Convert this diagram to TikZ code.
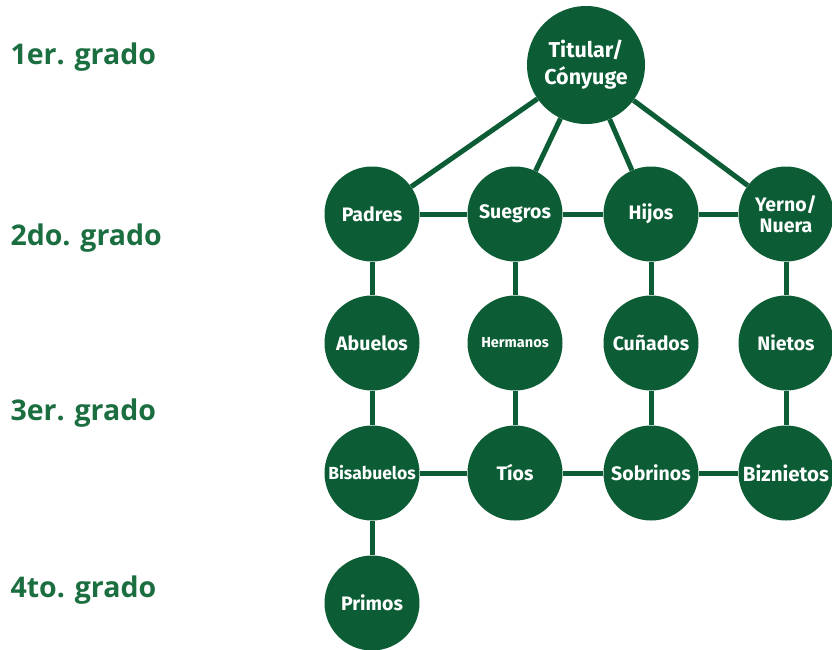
\documentclass[tikz,border=0pt]{standalone}
\usepackage{fontspec}
\setmainfont{Fira Sans}
\newfontfamily\gradofont{Open Sans}
\definecolor{circlegreen}{HTML}{0C5D35}
\definecolor{gradogreen}{HTML}{1B6E40}
\tikzset{
  pariente/.style={
    circle,fill=circlegreen,minimum size=95pt,inner sep=0pt,
    text=white,align=center,font=\bfseries\fontsize{19.5}{21}\selectfont
  },
  pariente grande/.style={pariente,minimum size=118pt,font=\bfseries\fontsize{21.5}{27}\selectfont},
  pariente chico/.style={pariente,font=\bfseries\fontsize{14.5}{16}\selectfont},
  grado/.style={anchor=west,text=gradogreen,font=\gradofont\bfseries\fontsize{28.5}{30}\selectfont},
  enlace/.style={draw=circlegreen,line width=5pt}
}
\begin{document}
\begin{tikzpicture}[x=1pt,y=-1pt]
\useasboundingbox (0,0) rectangle (832,649);
% grados
\node[grado] (g1) at (7,57) {1er. grado};
\node[grado] (g2) at (7,238) {2do. grado};
\node[grado] (g3) at (7,413) {3er. grado};
\node[grado] (g4) at (7,590) {4to. grado};
% parientes
\node[pariente grande] (titular) at (586,65) {Titular/\\Cónyuge};
\node[pariente] (padres) at (372,214) {Padres};
\node[pariente] (suegros) at (515,214) {Suegros};
\node[pariente] (hijos) at (651,214) {Hijos};
\node[pariente] (yerno) at (786,214) {Yerno/\\Nuera};
\node[pariente] (abuelos) at (372,343) {Abuelos};
\node[pariente chico] (hermanos) at (515,343) {Hermanos};
\node[pariente] (cunados) at (651,343) {Cuñados};
\node[pariente] (nietos) at (786,343) {Nietos};
\node[pariente,font=\bfseries\fontsize{17.5}{19}\selectfont] (bisabuelos) at (372,473) {Bisabuelos};
\node[pariente] (tios) at (515,473) {Tíos};
\node[pariente] (sobrinos) at (651,473) {Sobrinos};
\node[pariente,font=\bfseries\fontsize{20.5}{22}\selectfont] (biznietos) at (786,473) {Biznietos};
\node[pariente] (primos) at (372,603) {Primos};
% enlaces
\foreach \a in {padres,suegros,hijos,yerno}
  \draw[enlace] (titular) -- (\a);
\draw[enlace] (padres) -- (suegros) (suegros) -- (hijos) (hijos) -- (yerno);
\draw[enlace] (bisabuelos) -- (tios) (tios) -- (sobrinos) (sobrinos) -- (biznietos);
\draw[enlace] (padres) -- (abuelos) (abuelos) -- (bisabuelos) (bisabuelos) -- (primos);
\draw[enlace] (suegros) -- (hermanos) (hermanos) -- (tios);
\draw[enlace] (hijos) -- (cunados) (cunados) -- (sobrinos);
\draw[enlace] (yerno) -- (nietos) (nietos) -- (biznietos);
\end{tikzpicture}
\end{document}
